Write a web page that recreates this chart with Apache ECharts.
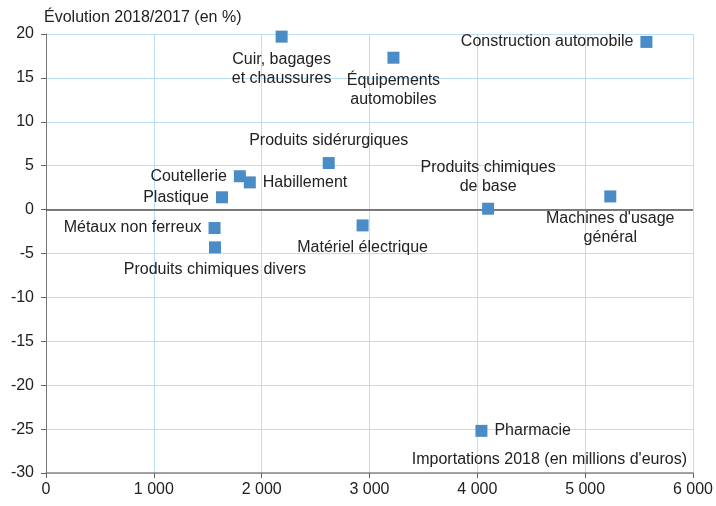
<!DOCTYPE html>
<html>
<head>
<meta charset="utf-8">
<script src="https://cdn.jsdelivr.net/npm/echarts@6/dist/echarts.min.js"></script>
<style>
  html, body { margin: 0; padding: 0; background: #fff; }
  #chart { width: 716px; height: 506px; }
</style>
</head>
<body>
<div id="chart"></div>
<script>
// Secteurs : importations 2018 (millions d'euros) et évolution 2018/2017 (%)
const sectors = [
  'Cuir, bagages\net chaussures',
  'Équipements\nautomobiles',
  'Construction automobile',
  'Produits sidérurgiques',
  'Coutellerie',
  'Habillement',
  'Plastique',
  'Métaux non ferreux',
  'Produits chimiques divers',
  'Matériel électrique',
  'Produits chimiques\nde base',
  "Machines d'usage\ngénéral",
  'Pharmacie'
];
const imports2018 = [2185, 3222, 5568, 2622, 1798, 1890, 1632, 1563, 1567, 2936, 4100, 5233, 4038];
const evolution = [19.7, 17.3, 19.1, 5.3, 3.8, 3.1, 1.4, -2.1, -4.3, -1.8, 0.1, 1.5, -25.2];

const xTicks = { min: 0, max: 6000, step: 1000 };
const yTicks = { min: -30, max: 20, step: 5 };

// Placement des étiquettes autour de chaque point
const labelPlacement = {
  'Cuir, bagages\net chaussures': 'bottom',
  'Équipements\nautomobiles': 'bottom',
  'Construction automobile': 'left',
  'Produits sidérurgiques': 'top',
  'Coutellerie': 'left',
  'Habillement': 'right',
  'Plastique': 'left',
  'Métaux non ferreux': 'left',
  'Produits chimiques divers': 'bottom',
  'Matériel électrique': 'bottom',
  'Produits chimiques\nde base': 'top',
  "Machines d'usage\ngénéral": 'bottom',
  'Pharmacie': 'right'
};

const FONT = 'Liberation Sans';
const TEXT = '#222';

const points = sectors.map((name, i) => ({
  name: name,
  value: [imports2018[i], evolution[i]],
  label: { position: labelPlacement[name] }
}));

const chart = echarts.init(document.getElementById('chart'), null, { renderer: 'canvas' });

chart.setOption({
  animation: false,
  grid: { left: 46, right: 19, top: 34, bottom: 33, containLabel: false },
  xAxis: {
    type: 'value',
    min: xTicks.min, max: xTicks.max, interval: xTicks.step,
    name: "Importations 2018 (en millions d'euros)",
    nameLocation: 'end',
    nameGap: -6,
    nameTextStyle: { fontFamily: FONT, fontSize: 16, color: TEXT, align: 'right', verticalAlign: 'bottom', padding: [0, 0, 5, 0] },
    axisLine: { onZero: false, lineStyle: { color: '#888', width: 1.5 } },
    axisTick: { show: true, length: 5, lineStyle: { color: '#666' } },
    axisLabel: {
      fontFamily: FONT, fontSize: 16, color: TEXT, margin: 9,
      formatter: v => String(v).replace(/\B(?=(\d{3})+(?!\d))/g, ' ')
    },
    splitLine: { show: true, lineStyle: { color: '#bcdff7', width: 1 } }
  },
  yAxis: {
    type: 'value',
    min: yTicks.min, max: yTicks.max, interval: yTicks.step,
    name: 'Évolution 2018/2017 (en %)',
    nameLocation: 'end',
    nameGap: 8,
    nameTextStyle: { fontFamily: FONT, fontSize: 16, color: TEXT, align: 'left', padding: [0, 0, 0, -2] },
    axisLine: { show: true, onZero: false, lineStyle: { color: '#777', width: 1 } },
    axisTick: { show: true, length: 5, lineStyle: { color: '#666' } },
    axisLabel: { fontFamily: FONT, fontSize: 16, color: TEXT, margin: 12 },
    splitLine: { show: true, lineStyle: { color: '#bcdff7', width: 1 } }
  },
  series: [{
    type: 'scatter',
    symbol: 'rect',
    symbolSize: 12,
    itemStyle: { color: '#4a8cc6', opacity: 1 },
    label: {
      show: true,
      formatter: p => p.name,
      fontFamily: FONT,
      fontSize: 16,
      color: TEXT,
      lineHeight: 19,
      distance: 7
    },
    data: points,
    markLine: {
      silent: true,
      symbol: 'none',
      label: { show: false },
      lineStyle: { color: '#555', width: 1.5, type: 'solid' },
      data: [{ yAxis: 0 }],
      z: 1
    }
  }]
});
</script>
</body>
</html>
